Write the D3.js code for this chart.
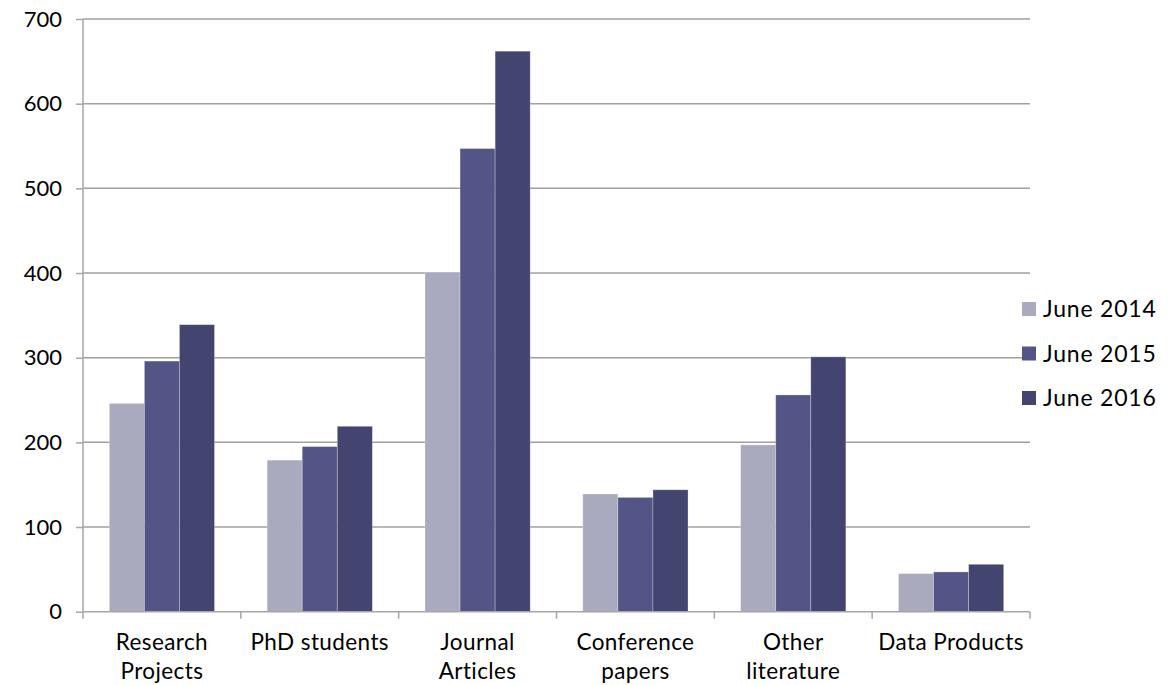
<!DOCTYPE html>
<html><head><meta charset="utf-8">
<script src="https://cdn.jsdelivr.net/npm/d3@7"></script>
<style>body{margin:0;background:#fff}svg text{font-family:Lato,"Open Sans",sans-serif;fill:#000}</style>
</head><body>
<svg id="c" width="1173" height="685"></svg>
<script>
const categories = [["Research","Projects"],["PhD students"],["Journal","Articles"],["Conference","papers"],["Other","literature"],["Data Products"]];
const seriesNames = ["June 2014","June 2015","June 2016"];
const june2014 = [246, 179, 401, 139, 197, 45];
const june2015 = [296, 195, 547, 135, 256, 47];
const june2016 = [339, 219, 662, 144, 301, 56];
const yTicks = [0,100,200,300,400,500,600,700];
const colors = ["#A9AABD","#545587","#434470"];
const series = [june2014, june2015, june2016];

const svg = d3.select("#c");
const L = 83, R = 1030, T = 19, B = 611.7;
const y = d3.scaleLinear().domain([0,700]).range([B,T]);
const x0 = d3.scaleBand().domain(d3.range(categories.length)).range([L,R]).paddingInner(0).paddingOuter(0);
const bw = x0.bandwidth()/4.5;

// gridlines
svg.append("g").selectAll("line").data(yTicks.filter(d=>d>0)).join("line")
  .attr("x1",L).attr("x2",R).attr("y1",d=>y(d)).attr("y2",d=>y(d))
  .attr("stroke","#A0A0A0").attr("stroke-width",1.5);

// bars
series.forEach((s,si)=>{
  svg.append("g").selectAll("rect").data(s).join("rect")
    .attr("x",(d,i)=>x0(i)+0.75*bw+si*bw)
    .attr("width",bw)
    .attr("y",d=>y(d)).attr("height",d=>B-y(d))
    .attr("fill",colors[si]).attr("stroke","#ffffff").attr("stroke-opacity",0.35).attr("stroke-width",0.8);
});

// y axis
const yAxis = d3.axisLeft(y).tickValues(yTicks).tickSize(7).tickPadding(14);
const ya = svg.append("g").attr("transform",`translate(${L},0)`).call(yAxis);
ya.select(".domain").attr("stroke","#A6A6A6").attr("stroke-width",1.5).attr("d",`M0,${T}V${B}`);
ya.selectAll(".tick line").attr("stroke","#A6A6A6").attr("stroke-width",1.5);
ya.selectAll(".tick text").style("font-size","22px").attr("fill","#000");

// x axis
const xa = svg.append("g");
xa.append("line").attr("x1",L).attr("x2",R).attr("y1",B).attr("y2",B).attr("stroke","#A6A6A6").attr("stroke-width",1.5);
xa.selectAll("line.t").data(d3.range(categories.length+1)).join("line").attr("class","t")
  .attr("x1",i=>L+i*x0.step()).attr("x2",i=>L+i*x0.step())
  .attr("y1",B).attr("y2",B+7).attr("stroke","#A6A6A6").attr("stroke-width",1.5);
const lbl = xa.selectAll("text").data(categories).join("text")
  .attr("text-anchor","middle").style("font-size","22.5px").style("letter-spacing","0.4px")
  .attr("transform",(d,i)=>`translate(${x0(i)+x0.bandwidth()/2},650)`);
lbl.selectAll("tspan").data(d=>d).join("tspan").attr("x",0).attr("dy",(d,j)=>j===0?0:29).text(d=>d);

// legend
const lg = svg.append("g");
seriesNames.forEach((n,i)=>{
  const yy = 309 + i*44.5;
  lg.append("rect").attr("x",1022).attr("y",yy-7).attr("width",14).attr("height",14).attr("fill",colors[i]);
  lg.append("text").attr("x",1043).attr("y",yy).attr("dy","0.36em").style("font-size","23px").style("letter-spacing","0.8px").text(n);
});
</script>
</body></html>
